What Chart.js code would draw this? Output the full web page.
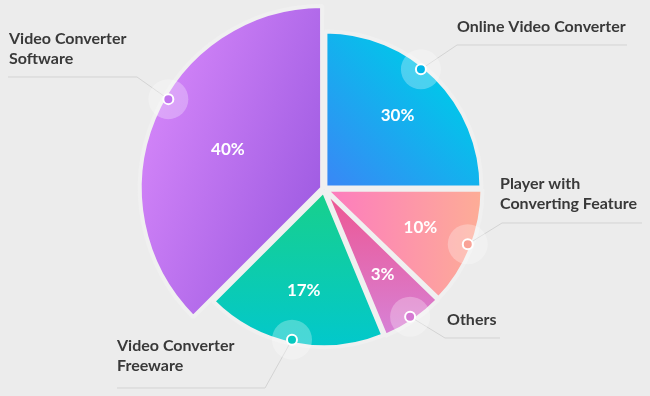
<!DOCTYPE html>
<html>
<head>
<meta charset="utf-8">
<script src="https://cdn.jsdelivr.net/npm/chart.js@4.4.1/dist/chart.umd.min.js"></script>
<style>
  html, body { margin: 0; padding: 0; background: #ececec; }
  #wrap { width: 650px; height: 396px; }
</style>
</head>
<body>
<div id="wrap"><canvas id="shareChart" width="650" height="396"></canvas></div>
<script>
// slices in drawing order, clockwise from 12 o'clock
const categories = [
  ["Online Video Converter"],
  ["Player with", "Converting Feature"],
  ["Others"],
  ["Video Converter", "Freeware"],
  ["Video Converter", "Software"]
];
const shares = [30, 10, 3, 17, 40];
// the infographic does not draw slices in proportion, so the sweep is read off the picture
const sweepDegrees = [90, 44, 23.5, 67.5, 135];

// styles
const PIE_RADIUS = 156;
const radiusScale = [1, 1, 1, 1, 1.165];
const gradientStops = [
  ["#3a86f6", "#02c5ea"],
  ["#fd7bbf", "#fdad96"],
  ["#ee5590", "#d585dc"],
  ["#18d08b", "#02c8cc"],
  ["#a15de3", "#d082f7"]
];
const gradientDirs = [-45, 0, 90, 90, 200];
const dotColors = ["#00b6e8", "#f9a296", "#d579d2", "#06c9bf", "#c275ee"];
const callouts = [
  { dotAngle: -51, elbow: [457, 45], endX: 627, textX: 457, textY: 32 },
  { dotAngle: 21, elbow: [502, 223], endX: 642, textX: 500, textY: 189 },
  { dotAngle: 56, elbow: [445, 338], endX: 500, textX: 447, textY: 325 },
  { dotAngle: 102, elbow: [265, 388], endX: 117, textX: 117, textY: 351 },
  { dotAngle: 210, elbow: [137, 77], endX: 8, textX: 9, textY: 44 }
];
const rad = d => d * Math.PI / 180;

function sliceGradient(context) {
  const chart = context.chart;
  const area = chart.chartArea;
  if (!area) return gradientStops[context.dataIndex][0];
  const i = context.dataIndex;
  const cx = (area.left + area.right) / 2;
  const cy = (area.top + area.bottom) / 2;
  const r = PIE_RADIUS * radiusScale[i];
  const a = rad(gradientDirs[i]);
  const g = chart.ctx.createLinearGradient(cx, cy, cx + Math.cos(a) * r, cy + Math.sin(a) * r);
  g.addColorStop(0, gradientStops[i][0]);
  g.addColorStop(1, gradientStops[i][1]);
  return g;
}

const calloutPlugin = {
  id: "callouts",
  afterDatasetsUpdate(chart) {
    chart.getDatasetMeta(0).data.forEach((arc, i) => {
      arc.outerRadius = PIE_RADIUS * radiusScale[i];
    });
  },
  afterDatasetsDraw(chart) {
    const ctx = chart.ctx;
    const arcs = chart.getDatasetMeta(0).data;
    ctx.save();

    // percentages inside slices
    ctx.fillStyle = "#ffffff";
    ctx.font = "bold 17px Lato";
    ctx.textAlign = "center";
    ctx.textBaseline = "middle";
    arcs.forEach((arc, i) => {
      const mid = (arc.startAngle + arc.endAngle) / 2;
      ctx.fillText(shares[i] + "%", arc.x + Math.cos(mid) * 104, arc.y + Math.sin(mid) * 104);
    });

    // leader lines, halos, dots, labels
    arcs.forEach((arc, i) => {
      const c = callouts[i];
      const a = rad(c.dotAngle);
      const dx = arc.x + Math.cos(a) * (arc.outerRadius - 2);
      const dy = arc.y + Math.sin(a) * (arc.outerRadius - 2);

      ctx.strokeStyle = "#d3d3d3";
      ctx.lineWidth = 1;
      ctx.beginPath();
      ctx.moveTo(dx, dy);
      ctx.lineTo(c.elbow[0], c.elbow[1]);
      ctx.lineTo(c.endX, c.elbow[1]);
      ctx.stroke();

      ctx.fillStyle = "rgba(255,255,255,0.28)";
      ctx.beginPath();
      ctx.arc(dx, dy, 20, 0, Math.PI * 2);
      ctx.fill();

      ctx.fillStyle = dotColors[i];
      ctx.strokeStyle = "#ffffff";
      ctx.lineWidth = 2;
      ctx.beginPath();
      ctx.arc(dx, dy, 5, 0, Math.PI * 2);
      ctx.fill();
      ctx.stroke();

      ctx.fillStyle = "#393939";
      ctx.font = "bold 16px Lato";
      ctx.textAlign = "left";
      ctx.textBaseline = "alphabetic";
      categories[i].forEach((line, k) => {
        ctx.fillText(line, c.textX, c.textY + k * 20);
      });
    });
    ctx.restore();
  }
};

new Chart(document.getElementById("shareChart"), {
  type: "pie",
  data: {
    labels: categories.map(l => l.join(" ")),
    datasets: [{
      data: sweepDegrees,
      backgroundColor: sliceGradient,
      borderColor: "#f0f0f0",
      borderWidth: 4,
      offset: 8
    }]
  },
  options: {
    responsive: false,
    animation: false,
    events: [],
    radius: PIE_RADIUS,
    layout: { padding: { left: 0, right: 2, top: 0, bottom: 18 } },
    plugins: {
      legend: { display: false },
      tooltip: { enabled: false }
    }
  },
  plugins: [calloutPlugin]
});
</script>
</body>
</html>
